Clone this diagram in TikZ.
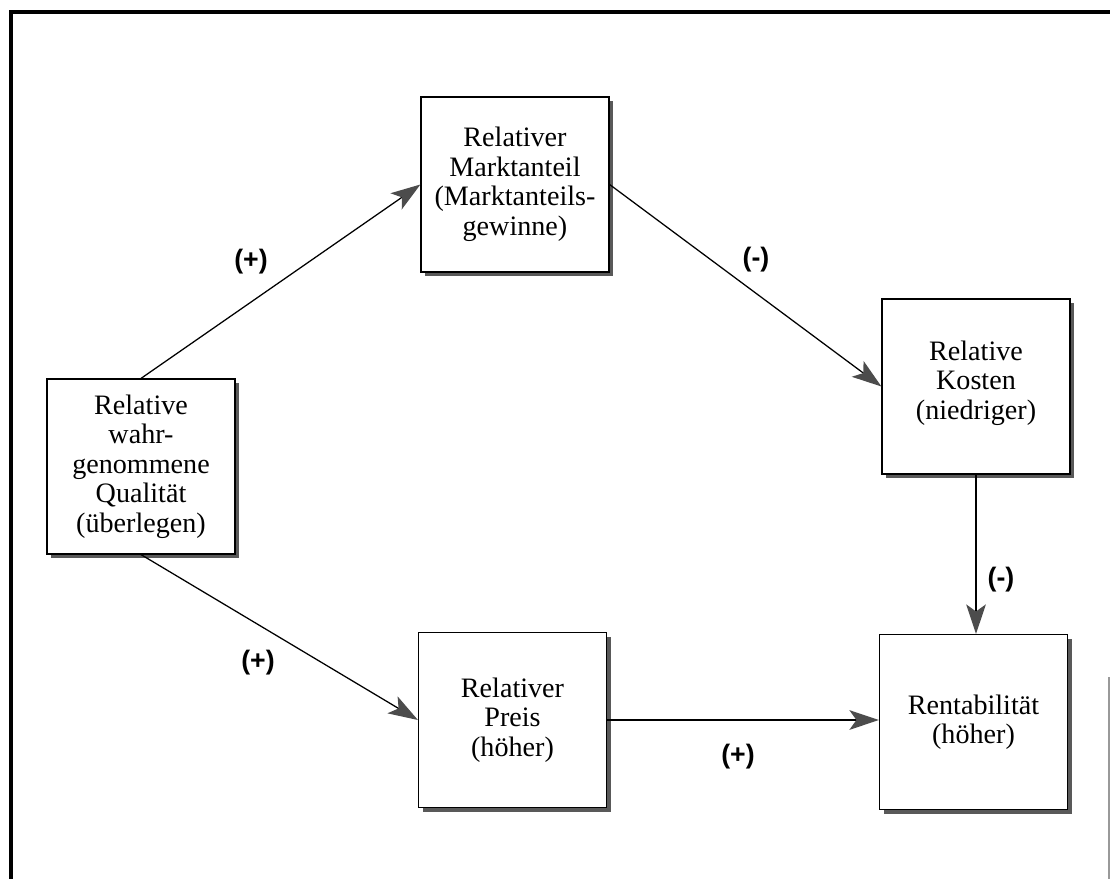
\documentclass[tikz,border=0pt]{standalone}
\usepackage{fontspec}
\setmainfont{Liberation Serif}
\newfontfamily\signfont{Liberation Sans}
\usetikzlibrary{shadows,arrows.meta}

\begin{document}
\begin{tikzpicture}[x=0.025cm,y=-0.025cm]

\def\boxw{4.7cm}
\def\boxh{4.375cm}

\tikzstyle{factor}=[rectangle,draw=black,line width=0.8pt,fill=white,minimum width=\boxw,minimum height=\boxh,inner sep=0pt,align=center,font=\fontsize{20}{21}\selectfont,drop shadow={shadow xshift=0.11cm,shadow yshift=-0.11cm,fill=black!65,opacity=1}]
\tikzstyle{effect}=[draw,line width=0.9pt,-{Stealth[length=21pt,width=14pt,inset=5pt,black!70]}]
\tikzstyle{sign}=[font=\signfont\bfseries\fontsize{19}{19}\selectfont]

\useasboundingbox (0,0) rectangle (1110,879);

%frame
\draw[line width=2.5pt] (11,879) -- (11,12) -- (1110,12);
\draw[black!40,line width=1pt] (1109,677) -- (1109,879);

%factor boxes
\node[factor] (qualBox)   at (141,466.5) {Relative\\wahr-\\genommene\\Qualität\\(überlegen)};
\node[factor] (marktBox)  at (515,184.5) {Relativer\\Marktanteil\\(Marktanteils-\\gewinne)};
\node[factor] (kostenBox) at (976,386.5) {Relative\\Kosten\\(niedriger)\\[-12pt]};
\node[factor] (preisBox)  at (512.5,720) {Relativer\\Preis\\(höher)};
\node[factor] (rentBox)   at (973.5,722) {Rentabilität\\(höher)};

%signs
\node[sign] (signQM) at (251,262) {(+)};
\node[sign] (signMK) at (756,260) {(-)};
\node[sign] (signKR) at (1001,580) {(-)};
\node[sign] (signQP) at (258,663) {(+)};
\node[sign] (signPR) at (738,757) {(+)};

% connections
\draw[effect] (qualBox.north) -- (marktBox.west);
\draw[effect] (marktBox.east) -- (kostenBox.west);
\draw[effect] (kostenBox.south) -- (kostenBox.south |- rentBox.north);
\draw[effect] (qualBox.south) -- (preisBox.west);
\draw[effect] (preisBox.east) -- (preisBox.east -| rentBox.west);

\end{tikzpicture}
\end{document}
